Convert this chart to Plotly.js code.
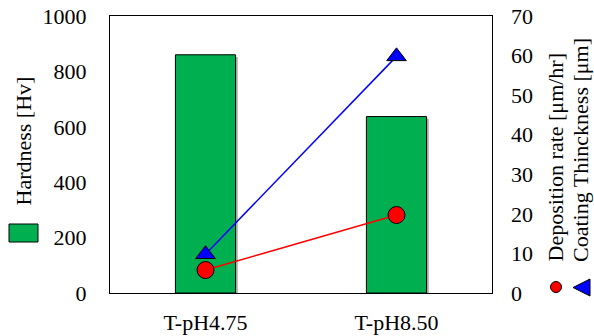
<!DOCTYPE html>
<html>
<head>
<meta charset="utf-8">
<script src="https://cdn.plot.ly/plotly-3.0.1.min.js"></script>
<style>html,body{margin:0;padding:0;background:#fff;}#chart{width:594px;height:336px;}</style>
</head>
<body>
<div id="chart"></div>
<script>
const categories = ["T-pH4.75", "T-pH8.50"];
const hardness = [860, 637];
const depositionRate = [5.8, 19.7];
const coatingThickness = [9.8, 59.8];
const leftTicks = [0, 200, 400, 600, 800, 1000];
const rightTicks = [0, 10, 20, 30, 40, 50, 60, 70];

const FONT = "'Times New Roman', 'Liberation Serif', serif";
const FS = 22;
const PL = 110, PR = 492, PT = 16, PB = 293;
const px = x => (x - PL) / (PR - PL);
const py = y => (PB - y) / (PB - PT);
const BW = 0.315;

const traces = [
  {
    type: "bar", x: categories, y: hardness.map(v => v - 8), width: BW, offset: -BW / 2 + 0.012,
    marker: {color: "#b5b5b5", line: {width: 0}},
    yaxis: "y", showlegend: false, hoverinfo: "skip"
  },
  {
    type: "bar", x: categories, y: hardness, width: BW, offset: -BW / 2,
    marker: {color: "#00B050", line: {color: "#000", width: 1}},
    yaxis: "y", showlegend: false, hoverinfo: "skip"
  },
  {
    type: "scatter", mode: "lines+markers", x: categories, y: coatingThickness, yaxis: "y2",
    line: {color: "#0000FF", width: 1.5},
    marker: {symbol: "triangle-up", size: 17, color: "#0000FF", line: {color: "#000", width: 1}},
    showlegend: false, cliponaxis: false
  },
  {
    type: "scatter", mode: "lines+markers", x: categories, y: depositionRate, yaxis: "y2",
    line: {color: "#FF0000", width: 1.5},
    marker: {symbol: "circle", size: 17, color: "#FF0000", line: {color: "#000", width: 1}},
    showlegend: false, cliponaxis: false
  }
];

const layout = {
  width: 594, height: 336,
  margin: {l: PL, r: 594 - PR, t: PT, b: 336 - PB, pad: 0},
  paper_bgcolor: "#fff", plot_bgcolor: "#fff",
  font: {family: FONT, size: FS, color: "#000"},
  showlegend: false,
  barmode: "overlay",
  xaxis: {
    type: "category", range: [-0.5, 1.5], showgrid: false, zeroline: false,
    showline: true, linecolor: "#000", linewidth: 1, mirror: true,
    ticks: "", ticklabelstandoff: 10, tickfont: {family: FONT, size: FS, color: "#000"}
  },
  yaxis: {
    range: [0, 1000], tickvals: leftTicks, showgrid: false, zeroline: false,
    showline: true, linecolor: "#000", linewidth: 1, mirror: true,
    ticks: "", ticklabelstandoff: 18, tickfont: {family: FONT, size: FS, color: "#000"}
  },
  yaxis2: {
    range: [0, 70], tickvals: rightTicks, overlaying: "y", side: "right",
    showgrid: false, zeroline: false, showline: false,
    ticks: "", ticklabelstandoff: 18, tickfont: {family: FONT, size: FS, color: "#000"}
  },
  annotations: [
    {text: "Hardness [Hv]", textangle: -90, xref: "paper", yref: "paper",
     x: px(23), y: py(208), xanchor: "center", yanchor: "bottom", showarrow: false,
     font: {family: FONT, size: FS, color: "#000"}},
    {text: "Deposition rate [μm/hr]", textangle: -90, xref: "paper", yref: "paper",
     x: px(555), y: py(264), xanchor: "center", yanchor: "bottom", showarrow: false,
     font: {family: FONT, size: FS, color: "#000"}},
    {text: "Coating Thinckness [μm]", textangle: -90, xref: "paper", yref: "paper",
     x: px(580), y: py(264), xanchor: "center", yanchor: "bottom", showarrow: false,
     font: {family: FONT, size: FS, color: "#000"}}
  ],
  shapes: [
    {type: "rect", xref: "paper", yref: "paper", x0: px(9), x1: px(38), y0: py(242), y1: py(224),
     fillcolor: "#00B050", line: {color: "#000", width: 1}},
    {type: "circle", xref: "paper", yref: "paper", x0: px(550.5), x1: px(561.5), y0: py(292.5), y1: py(281.5),
     fillcolor: "#FF0000", line: {color: "#000", width: 1}},
    {type: "path", xref: "paper", yref: "paper",
     path: `M ${px(573)},${py(287.5)} L ${px(590)},${py(279)} L ${px(590)},${py(296)} Z`,
     fillcolor: "#0000FF", line: {color: "#000", width: 1}}
  ]
};

Plotly.newPlot("chart", traces, layout, {displayModeBar: false, staticPlot: true});
</script>
</body>
</html>
